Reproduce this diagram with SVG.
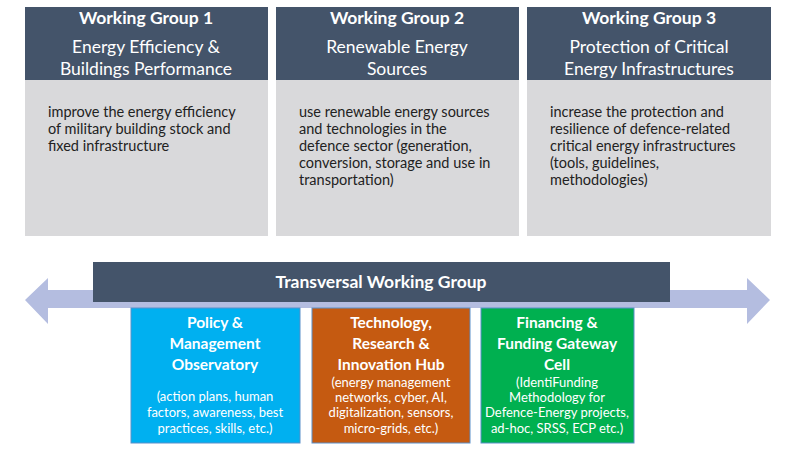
<svg xmlns="http://www.w3.org/2000/svg" width="800" height="451" viewBox="0 0 800 451">
<style>
text{font-family:Lato,"Open Sans",sans-serif;}
.hd{fill:#44546a;}
.bd{fill:#d9d9db;}
.t1{fill:#fff;font-size:17.5px;font-weight:bold;text-anchor:middle;}
.t2{fill:#fff;font-size:17.5px;text-anchor:middle;}
.tb{fill:#222;font-size:14.5px;}
.bt{fill:#fff;font-size:15.5px;font-weight:bold;text-anchor:middle;}
.bs{fill:#fff;font-size:13px;text-anchor:middle;}
</style>
<rect width="800" height="451" fill="#fff"/>
<g id="wg1">
<rect class="hd" x="25" y="7" width="243" height="73"/>
<rect class="bd" x="25" y="80" width="243" height="156"/>
<text class="t1" x="146" y="24">Working Group 1</text>
<text class="t2" x="146" y="53">Energy Efficiency &amp;</text>
<text class="t2" x="146" y="75">Buildings Performance</text>
<text class="tb" x="48" y="117">improve the energy efficiency</text>
<text class="tb" x="48" y="134">of military building stock and</text>
<text class="tb" x="48" y="151">fixed infrastructure</text>
</g>
<g id="wg2">
<rect class="hd" x="276" y="7" width="243" height="73"/>
<rect class="bd" x="276" y="80" width="243" height="156"/>
<text class="t1" x="397" y="24">Working Group 2</text>
<text class="t2" x="397" y="53">Renewable Energy</text>
<text class="t2" x="397" y="75">Sources</text>
<text class="tb" x="299" y="117">use renewable energy sources</text>
<text class="tb" x="299" y="134">and technologies in the</text>
<text class="tb" x="299" y="151">defence sector (generation,</text>
<text class="tb" x="299" y="168">conversion, storage and use in</text>
<text class="tb" x="299" y="185">transportation)</text>
</g>
<g id="wg3">
<rect class="hd" x="527" y="7" width="244" height="73"/>
<rect class="bd" x="527" y="80" width="244" height="156"/>
<text class="t1" x="649" y="24">Working Group 3</text>
<text class="t2" x="649" y="53">Protection of Critical</text>
<text class="t2" x="649" y="75">Energy Infrastructures</text>
<text class="tb" x="550" y="117">increase the protection and</text>
<text class="tb" x="550" y="134">resilience of defence-related</text>
<text class="tb" x="550" y="151">critical energy infrastructures</text>
<text class="tb" x="550" y="168">(tools, guidelines,</text>
<text class="tb" x="550" y="185">methodologies)</text>
</g>
<g id="connectors">
<polygon fill="#b4bde0" points="25,300 48,278 48,290 747,290 747,278 770,300 747,324 747,308 48,308 48,324"/>
</g>
<g id="twg">
<rect class="hd" x="93" y="262" width="577" height="40"/>
<text x="381" y="288" class="t1">Transversal Working Group</text>
</g>
<g id="policy">
<rect x="131" y="308" width="169" height="135" fill="#00b0f0" stroke="#5b8fc9"/>
<text class="bt" x="215" y="328">Policy &amp;</text>
<text class="bt" x="215" y="349">Management</text>
<text class="bt" x="215" y="370">Observatory</text>
<text class="bs" x="215" y="401">(action plans, human</text>
<text class="bs" x="215" y="417">factors, awareness, best</text>
<text class="bs" x="215" y="433">practices, skills, etc.)</text>
</g>
<g id="tech">
<rect x="312" y="308" width="158" height="135" fill="#c55a11" stroke="#5b8fc9"/>
<text class="bt" x="391" y="328">Technology,</text>
<text class="bt" x="391" y="349">Research &amp;</text>
<text class="bt" x="391" y="370">Innovation Hub</text>
<text class="bs" x="391" y="387">(energy management</text>
<text class="bs" x="391" y="402">networks, cyber, AI,</text>
<text class="bs" x="391" y="417">digitalization, sensors,</text>
<text class="bs" x="391" y="433">micro-grids, etc.)</text>
</g>
<g id="finance">
<rect x="481" y="308" width="153" height="135" fill="#00b050" stroke="#5b8fc9"/>
<text class="bt" x="557" y="328">Financing &amp;</text>
<text class="bt" x="557" y="349">Funding Gateway</text>
<text class="bt" x="557" y="370">Cell</text>
<text class="bs" x="557" y="387">(IdentiFunding</text>
<text class="bs" x="557" y="402">Methodology for</text>
<text class="bs" x="557" y="417">Defence-Energy projects,</text>
<text class="bs" x="557" y="433">ad-hoc, SRSS, ECP etc.)</text>
</g>
</svg>
